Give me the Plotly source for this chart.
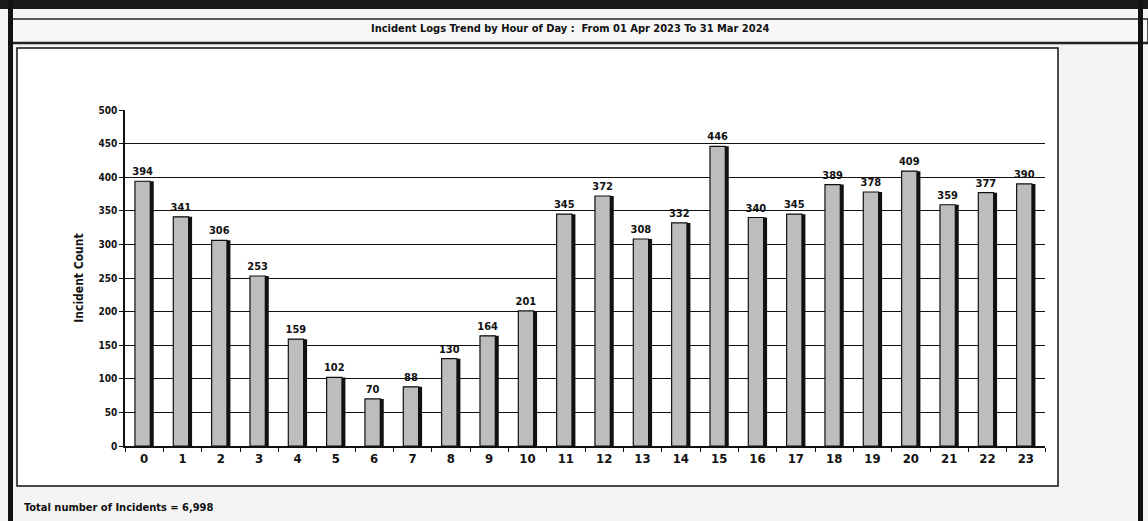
import plotly.graph_objects as go

hours = [str(h) for h in range(24)]
counts = [394, 341, 306, 253, 159, 102, 70, 88, 130, 164, 201, 345,
          372, 308, 332, 446, 340, 345, 389, 378, 409, 359, 377, 390]
y_ticks = list(range(0, 501, 50))

title_text = "Incident Logs Trend by Hour of Day :  From 01 Apr 2023 To 31 Mar 2024"
total_text = "Total number of Incidents = 6,998"

font_main = "Liberation Sans Narrow, Arial Narrow, DejaVu Sans Condensed, sans-serif"

fig = go.Figure()

# dark shadow behind each bar
fig.add_trace(go.Bar(
    x=hours, y=counts, width=0.46, offset=-0.21,
    marker=dict(color="#111111", line=dict(width=0)),
    hoverinfo="skip", showlegend=False,
))
# grey bar face with value labels
fig.add_trace(go.Bar(
    x=hours, y=counts, width=0.40, offset=-0.24,
    marker=dict(color="#bdbdbd", line=dict(color="#111111", width=1.2)),
    text=counts, textposition="outside", cliponaxis=False,
    constraintext="none",
    textfont=dict(family=font_main, size=11, color="#111111", weight="bold"),
    showlegend=False,
))

fig.update_layout(
    width=1148, height=521,
    barmode="overlay",
    paper_bgcolor="#f4f4f4",
    plot_bgcolor="white",
    margin=dict(l=125, r=103, t=110, b=75, autoexpand=False),
    font=dict(family=font_main, size=12, color="#111111"),
    xaxis=dict(
        type="category", showgrid=False, tickson="boundaries",
        ticks="outside", ticklen=4, tickcolor="#111111",
        showline=True, linecolor="#111111", linewidth=1.5,
        automargin=False,
        tickfont=dict(size=13, family=font_main, weight="bold"),
    ),
    yaxis=dict(
        range=[0, 500], tickvals=y_ticks, showgrid=True,
        gridcolor="#111111", gridwidth=1,
        ticks="outside", ticklen=4, tickcolor="#111111",
        showline=True, linecolor="#111111", linewidth=1.5,
        zeroline=False, automargin=False,
        title=dict(text="Incident Count", standoff=12,
                   font=dict(size=12, family=font_main, weight="bold")),
        tickfont=dict(size=10, family=font_main, weight="bold"),
    ),
    shapes=[
        # inner chart box
        dict(type="rect", xref="paper", yref="paper",
             x0=-108 / 920, x1=(1058 - 125) / 920,
             y0=-(486 - 446) / 336, y1=(446 - 48) / 336,
             line=dict(color="#111111", width=1.5), fillcolor="white", layer="below"),
        # title strip
        dict(type="rect", xref="paper", yref="paper",
             x0=-113 / 920, x1=(1148 - 125) / 920,
             y0=(446 - 43) / 336, y1=(446 - 19) / 336,
             line=dict(color="#222222", width=1.5), fillcolor="#f7f7f7", layer="below"),
        # heavier rule under the title strip
        dict(type="line", xref="paper", yref="paper",
             x0=-113 / 920, x1=(1148 - 125) / 920,
             y0=(446 - 43) / 336, y1=(446 - 43) / 336,
             line=dict(color="#222222", width=2.5), layer="below"),
        # thick top band
        dict(type="rect", xref="paper", yref="paper",
             x0=-125 / 920, x1=(1148 - 125) / 920,
             y0=(446 - 9) / 336, y1=446 / 336,
             line=dict(width=0), fillcolor="#1a1a1a", layer="below"),
        # left border
        dict(type="rect", xref="paper", yref="paper",
             x0=-117 / 920, x1=-112 / 920,
             y0=-75 / 336, y1=446 / 336,
             line=dict(width=0), fillcolor="#111111", layer="below"),
        # right border
        dict(type="rect", xref="paper", yref="paper",
             x0=(1138 - 125) / 920, x1=(1143 - 125) / 920,
             y0=-75 / 336, y1=446 / 336,
             line=dict(width=0), fillcolor="#111111", layer="below"),
    ],
    annotations=[
        dict(text=title_text, xref="paper", yref="paper",
             x=(570 - 125) / 920, y=(446 - 29) / 336, showarrow=False,
             xanchor="center", yanchor="middle",
             font=dict(size=11, family=font_main, color="#111111", weight="bold")),
        dict(text=total_text, xref="paper", yref="paper",
             x=-103 / 920, y=-(507 - 446) / 336, showarrow=False,
             xanchor="left", yanchor="middle",
             font=dict(size=11, family=font_main, color="#111111", weight="bold")),
    ],
)

fig.write_html("out.html", config={"displayModeBar": False},
               post_script="document.body.style.margin='0';")
